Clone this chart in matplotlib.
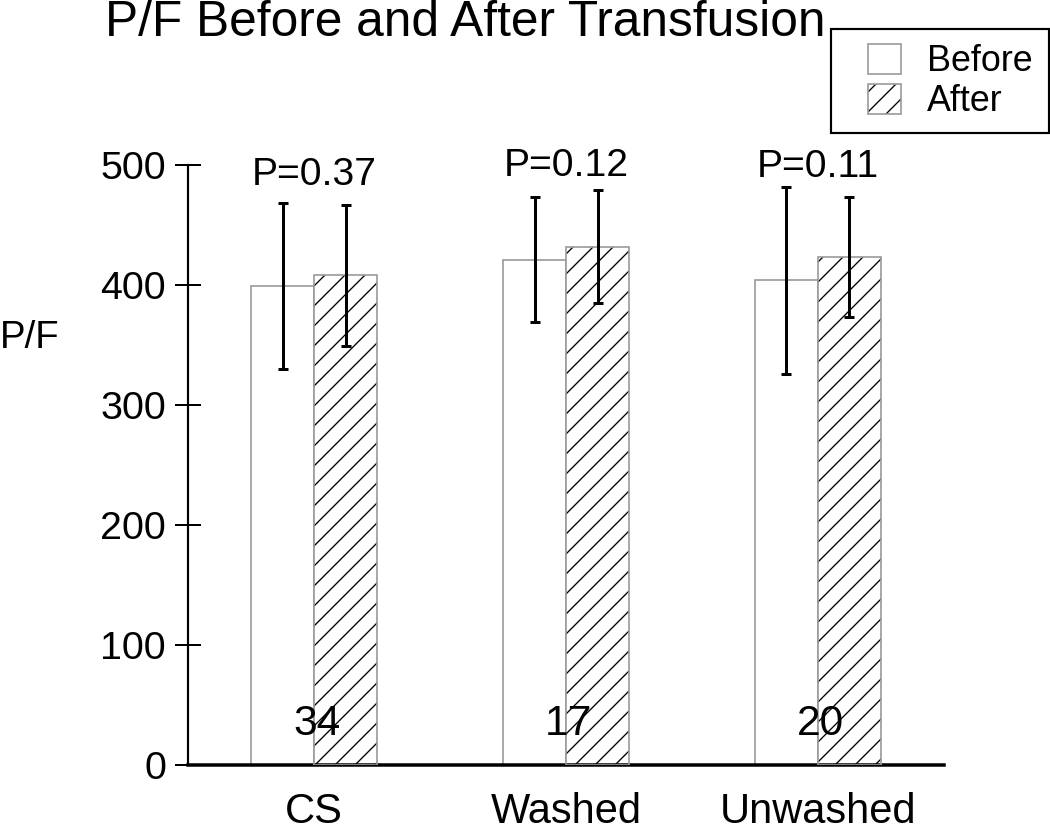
import matplotlib
matplotlib.use('Agg')
import matplotlib.pyplot as plt
from matplotlib.patches import Rectangle
from matplotlib.legend_handler import HandlerTuple
import numpy as np

# values
groups = ['CS', 'Washed', 'Unwashed']
before = [399, 421, 404]
after = [408, 432, 423]
before_err = [69, 52, 78]
after_err = [59, 47, 50]
p_labels = ['P=0.37', 'P=0.12', 'P=0.11']
p_label_y = [483, 491, 490]
counts = [34, 17, 20]
count_y = 25

plt.rcParams['font.family'] = ['Liberation Sans', 'DejaVu Sans']
plt.rcParams['hatch.linewidth'] = 0.8

fig = plt.figure(figsize=(8.75, 6.925), dpi=120)
ax = fig.add_axes([188 / 1050, 1 - 765 / 831, 756 / 1050, 600 / 831])

x = np.arange(len(groups))
w = 0.25
edge = '#9a9a9a'

b1 = ax.bar(x - w / 2, before, w, color='white', edgecolor=edge, linewidth=1, zorder=2)
b2 = ax.bar(x + w / 2, after, w, color='white', hatch='//', edgecolor='black', linewidth=0, zorder=2)
b3 = ax.bar(x + w / 2, after, w, fill=False, edgecolor=edge, linewidth=1, zorder=3)

ax.errorbar(x - w / 2, before, yerr=before_err, fmt='none', ecolor='black',
            elinewidth=1.8, capsize=3, capthick=1.8, zorder=4)
ax.errorbar(x + w / 2, after, yerr=after_err, fmt='none', ecolor='black',
            elinewidth=1.8, capsize=3, capthick=1.8, zorder=4)

for xi, lab, yy in zip(x, p_labels, p_label_y):
    ax.text(xi, yy, lab, ha='center', va='baseline', fontsize=23.5, zorder=5)
for xi, n in zip(x, counts):
    ax.text(xi + 0.01, count_y, str(n), ha='center', va='baseline', fontsize=25.5, zorder=5)

ax.set_xlim(-0.5, 2.5)
ax.set_ylim(0, 500)
ax.set_yticks([0, 100, 200, 300, 400, 500])
ax.set_xticks(x)
ax.set_xticklabels(groups)

ax.spines['top'].set_visible(False)
ax.spines['right'].set_visible(False)
ax.spines['left'].set_linewidth(1.3)
ax.spines['bottom'].set_linewidth(2.1)
ax.tick_params(axis='y', direction='inout', length=15.6, width=1.2, pad=5.4, labelsize=23.6)
ax.tick_params(axis='x', length=0, pad=16, labelsize=25)

ax.set_ylabel('P/F', rotation=0, fontsize=23, ha='left', va='baseline')
ax.yaxis.set_label_coords(-0.249, (765 - 348) / 600)

fig.text(105 / 1050, 1 - 36 / 831, 'P/F Before and After Transfusion',
         fontsize=29.8, va='baseline', ha='left')

# legend
leg = fig.legend([b1[0], (b2[0], b3[0])], ['Before', 'After'],
                 handler_map={tuple: HandlerTuple(ndivide=1)},
                 loc='upper left', bbox_to_anchor=(868 / 1050, 1 - 44 / 831),
                 bbox_transform=fig.transFigure, frameon=False, fontsize=21.5,
                 handlelength=0.92, handleheight=0.92, handletextpad=0.72,
                 labelspacing=0.12, borderpad=0, borderaxespad=0)
fig.add_artist(Rectangle((831 / 1050, 1 - 133 / 831), (1049 - 831) / 1050, 104 / 831,
                         transform=fig.transFigure, fill=False, edgecolor='black',
                         linewidth=1.3))

fig.savefig('out.png', dpi=120)
